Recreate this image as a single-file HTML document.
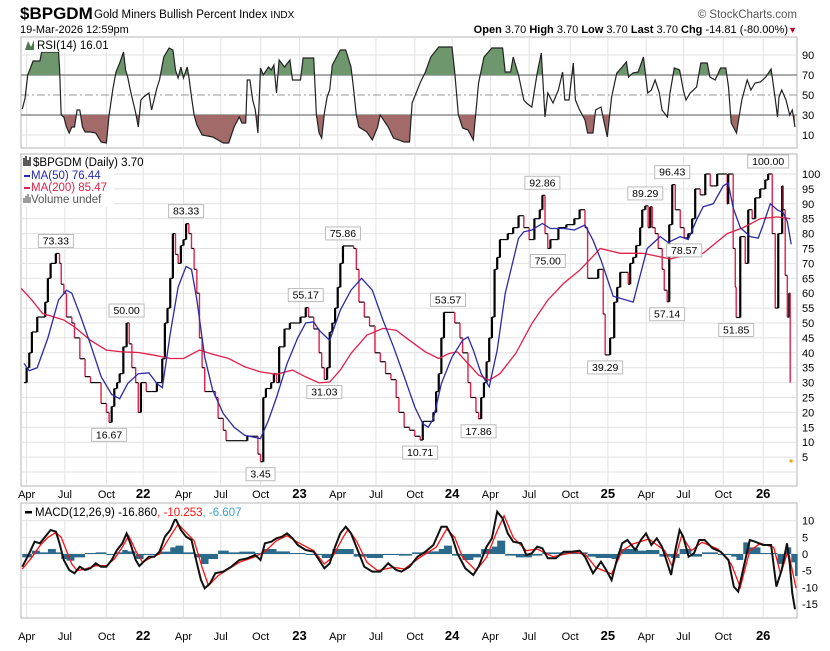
<!DOCTYPE html>
<html><head><meta charset="utf-8">
<style>
html,body{margin:0;padding:0;background:#fff;}
svg{display:block;font-family:"Liberation Sans",sans-serif;}
</style></head>
<body>
<svg id="chart" width="830" height="651" viewBox="0 0 830 651" xmlns="http://www.w3.org/2000/svg">
<g>
<text x="20" y="19" font-size="17" font-weight="bold" fill="#000">$BPGDM</text>
<text x="94" y="18" font-size="11.5" fill="#000">Gold Miners Bullish Percent Index <tspan font-size="10">INDX</tspan></text>
<text x="797" y="18" font-size="11.5" fill="#555" text-anchor="end">© StockCharts.com</text>
<text x="20" y="33" font-size="11" fill="#000">19-Mar-2026 12:59pm</text>
<text x="788" y="33" font-size="11" fill="#000" text-anchor="end"><tspan font-weight="bold">Open</tspan> 3.70 <tspan font-weight="bold">High</tspan> 3.70 <tspan font-weight="bold">Low</tspan> 3.70 <tspan font-weight="bold">Last</tspan> 3.70 <tspan font-weight="bold">Chg</tspan> -14.81 (-80.00%)</text>
<text x="797" y="33" font-size="9" fill="#c00020" text-anchor="end">▼</text>
</g>
<g id="grid"></g>
<g id="marks"></g>
<g id="labels"></g>
</svg>
<script>
// ---------- DATA ----------
const tickDates=[2.94,5.86,9.03,11.83,14.91,17.75,20.8,23.76,26.68,29.6,32.57,35.41,38.33,41.29,44.42,47.3,50.22,53.06,56.1,59.15];
const tickLabels=["Apr","Jul","Oct","22","Apr","Jul","Oct","23","Apr","Jul","Oct","24","Apr","Jul","Oct","25","Apr","Jul","Oct","26"];
const mainTicks=[100,95,90,85,80,75,70,65,60,55,50,45,40,35,30,25,20,15,10,5,0];
const rsiTicks=[90,70,50,30,10];
const macdTicks=[10,5,0,-5,-10,-15];

const bpiDates=[2.74,2.94,3.14,3.34,3.75,4.36,4.56,4.77,5.17,5.45,5.58,5.78,5.98,6.39,6.59,7.0,7.4,7.81,8.42,8.62,9.03,9.23,9.43,9.63,9.84,10.04,10.32,10.57,10.77,10.97,11.26,11.46,11.66,12.07,12.48,12.88,13.29,13.49,13.69,13.9,14.1,14.3,14.5,14.71,14.91,15.11,15.32,15.52,15.72,15.93,16.13,16.33,16.53,16.94,17.35,17.55,17.95,18.16,19.58,19.78,20.39,20.59,20.79,21.0,21.2,21.6,21.81,22.01,22.21,22.62,23.03,23.84,24.24,24.45,24.85,25.26,25.46,25.66,25.87,26.07,26.27,26.48,26.68,26.88,27.08,27.9,28.1,28.3,28.71,29.11,29.52,29.93,30.33,30.74,31.14,31.35,31.75,32.16,32.56,32.97,33.17,33.58,33.98,34.19,34.39,34.59,34.79,35.4,35.61,36.01,36.21,36.62,36.82,37.23,37.43,37.63,37.84,38.04,38.24,38.45,38.65,38.85,39.06,39.66,40.07,40.48,40.88,41.29,41.69,42.1,42.3,42.5,42.71,42.91,43.52,44.13,44.74,45.14,45.55,45.75,46.16,46.56,46.94,47.09,47.47,47.78,48.01,48.24,48.62,48.85,49.0,49.23,49.46,49.76,49.92,50.15,50.37,50.53,50.68,50.91,51.14,51.44,51.6,51.82,51.98,52.21,52.44,52.82,53.12,53.43,53.73,53.96,54.34,54.73,55.11,55.64,56.25,56.4,56.48,56.86,57.02,57.09,57.4,57.78,58.01,58.31,58.54,58.92,59.31,59.53,59.84,60.07,60.3,60.6,60.68,60.83,60.99,61.14,61.21];
const bpiValues=[30,35,40,47,52,57,65,70,73.33,70,63,60,52,50,45,38,32,30,30,23,20,16.67,22,28,30,33,42,50,43,35,30,20,30,27,27,30,38,50,55,65,80,73,70,76,78,83.33,80,75,68,60,45,35,27,27,25,18,14,10.5,10.5,12,12,6,3.45,25,28,30,33,30,42,48,50,52,55.17,52,48,40,35,31.03,35,47,50,55,62,70,75.86,75,68,57,52,49,40,37,33,31,25,20,15,14,12,10.71,17,17,20,27,33,45,53.57,53.57,50,45,40,30,25,20,17.86,25,30,37,45,52,68,72,78,80,82,86,82,78,85,88,92.86,80,75,78,82,83,85,88,82,65,65,68,53,39.29,45,57,62,67,67,63,70,72,76,82,88,89.29,82,89,82,80,75,68,61,57.14,83,96.43,88,82,78.57,80,85,95,93,100,96,100,100,90,100,75,62,51.85,79,70,88,85,92,95,98,100,80,55,80,96,88,66,52,60,30];
const lastDate=61.28;
const lastValue=3.7;

const annDates=[5.17,9.23,10.57,15.11,20.79,24.24,25.66,27.08,32.97,35.1,37.43,42.3,42.71,47.09,50.15,51.82,52.21,53.12,57.09,59.53];
const annValues=[73.33,16.67,50.00,83.33,3.45,55.17,31.03,75.86,10.71,53.57,17.86,92.86,75.00,39.29,89.29,57.14,96.43,78.57,51.85,100.00];
const annAbove=[1,0,1,1,0,1,0,1,0,1,0,1,0,0,1,0,1,0,0,1];

const ma50Dates=[2.74,3.14,3.75,4.56,5.37,5.98,6.39,7.0,7.81,8.62,9.43,10.04,10.65,11.46,12.27,12.88,13.29,13.9,14.5,15.11,15.52,15.93,16.53,17.14,17.95,18.77,19.58,20.79,21.4,22.01,22.82,23.63,24.24,24.85,25.26,26.07,26.88,27.69,28.5,29.32,30.13,30.94,31.75,32.56,33.17,33.58,33.98,34.59,35.4,36.21,36.62,37.03,37.63,38.24,38.85,39.46,40.48,40.88,41.49,42.3,42.91,43.92,44.74,45.55,46.16,46.77,47.7,49.23,50.3,51.29,51.9,52.82,53.43,54.11,54.57,55.34,56.1,56.48,56.86,57.4,58.16,58.77,59.15,59.69,60.22,60.68,60.99,61.29];
const ma50Values=[36.4,34,35,45,57.7,61,60,53,43,32,26,24.6,29.7,33,33.3,29.7,28.3,46.5,62,69,68,57.7,38.6,27.4,19.6,15,12.3,11.2,17.4,25,36.4,45,50,50.4,47.6,44.2,54.3,61,65,61,51,42,32,21.8,16.2,15,17.9,29.7,38.6,44.2,45.3,40.9,33,28.6,40.9,59.9,78.4,80.6,81.2,83.4,81.7,81.7,81.2,82.9,77.8,71.1,59,57,75,79,77,79,78,85,89,90,96,97,88.6,82,79,78.5,83,90,88,87,84,76.4];

const ma200Dates=[2.53,3.34,4.16,4.97,5.78,6.59,7.81,9.03,10.24,11.46,12.68,13.9,14.91,16.13,17.14,18.36,19.58,20.79,22.01,23.23,24.24,25.26,26.07,26.88,27.69,28.91,30.13,31.14,32.16,33.37,34.39,35.2,35.81,36.62,37.43,38.24,39.06,40.27,41.49,42.71,43.92,45.14,46.36,46.71,48.24,49.99,52.05,53.35,54.57,56.4,57.63,58.92,60.22,61.21];
const ma200Values=[61.6,57.7,53.2,52.1,51,48.7,44.2,40.9,40.3,40.1,39.2,38.1,38.1,40.9,39.5,38.1,35.3,33.6,32.8,34.2,31.9,29.9,30.2,34.2,39.8,45.9,48.2,47.6,44.2,40.3,38.1,39.8,40.3,36.4,32.5,30.8,33,39.8,49.8,57.7,63.3,67.7,73.3,75,73.4,73.4,71.5,72.8,73.4,80,82,85,85.6,85];

const rsiDates=[2.61,2.82,3.02,3.26,3.43,3.95,4.08,5.37,5.45,5.58,5.78,5.98,6.19,6.39,6.59,6.79,7.0,7.2,7.4,7.81,8.21,8.62,9.03,9.23,9.51,9.76,10.04,10.33,10.49,10.65,10.85,11.26,11.46,11.66,11.87,12.27,12.48,12.88,13.08,13.41,13.81,14.1,14.3,14.5,14.71,14.91,15.19,15.32,15.52,15.72,15.93,16.33,17.14,17.95,18.36,18.77,19.17,19.37,19.66,19.78,19.98,20.19,20.39,20.59,20.79,21.0,21.4,21.61,21.81,22.01,22.21,22.62,23.03,23.23,23.84,24.04,24.85,25.05,25.26,25.46,25.66,25.87,26.07,26.27,26.88,27.29,27.69,27.9,28.1,28.3,28.91,29.32,29.72,29.92,30.53,30.94,31.75,32.16,32.36,32.97,33.37,33.78,34.39,35.4,35.61,35.89,36.21,36.62,37.03,37.43,37.84,38.45,39.26,39.46,39.87,40.07,40.48,40.88,41.08,41.49,41.9,42.22,42.5,42.71,43.11,43.52,43.84,44.01,44.33,44.66,44.82,45.14,45.55,45.75,46.16,46.36,46.77,46.97,47.25,47.58,47.98,48.39,48.71,48.88,49.2,49.61,50.01,50.34,50.62,50.9,51.23,51.43,51.84,52.04,52.37,52.77,53.05,53.26,53.58,54.07,54.39,54.88,55.08,55.49,55.9,56.3,56.5,56.71,57.11,57.52,57.93,58.21,58.53,58.94,59.35,59.75,60.08,60.24,60.36,60.56,60.89,61.17,61.37,61.58];
const rsiValues=[36,47,70,78,84,84,93,93,78,30,28,18,12,18,18,35,35,18,13,13,12,3,2,30,55,73,82,93,75,68,55,32,18,45,48,52,35,57,65,88,97,95,75,67,78,67,78,68,48,30,20,10,8,2,2,18,28,22,22,65,65,45,35,12,77,70,78,75,80,52,85,78,85,65,65,87,87,30,12,7,32,48,55,80,95,95,78,55,30,18,13,5,18,30,18,7,3,3,42,62,73,88,98,98,73,30,17,15,5,62,88,97,97,73,73,88,70,45,42,38,72,92,28,52,42,55,73,45,45,82,45,35,25,12,12,35,38,25,8,48,72,78,83,68,72,73,88,52,55,65,52,35,28,52,77,75,55,45,52,58,82,82,68,65,77,77,58,22,12,45,65,55,62,63,68,76,45,28,48,55,45,30,35,18];

const macdDates=[2.61,3.14,3.55,3.95,4.36,4.77,5.17,5.45,5.78,6.19,6.59,7.0,7.4,7.81,8.21,8.62,9.03,9.43,9.84,10.24,10.57,10.85,11.26,11.54,11.87,12.27,12.68,13.08,13.49,13.9,14.3,14.71,15.11,15.52,15.93,16.25,16.53,16.94,17.34,17.95,18.56,19.17,19.78,20.39,20.79,21.12,21.61,22.01,22.42,22.82,23.23,23.63,24.24,24.85,25.26,25.66,26.07,26.48,26.88,27.29,27.69,28.1,28.71,29.32,29.92,30.53,31.14,31.55,32.16,32.77,33.37,33.98,34.59,35.0,35.4,35.81,36.42,37.03,37.43,38.04,38.45,38.85,39.26,39.66,40.07,40.68,41.08,41.49,41.9,42.3,42.71,43.32,43.92,44.53,45.14,45.55,46.16,46.77,47.17,47.58,47.98,48.39,48.79,49.4,49.81,50.21,50.62,51.03,51.43,51.84,52.12,52.45,52.77,53.05,53.46,53.87,54.27,54.68,55.29,55.9,56.5,56.91,57.24,57.72,58.13,58.53,59.14,59.75,60.16,60.56,60.97,61.17,61.37,61.58];
const macdValues=[-3.8,0.2,3.7,3.2,5.2,7.2,6.7,3.2,-1.8,-4.8,-5.8,-3.8,-4.8,-4.3,-2.8,-3.8,-3.8,-1.8,1.2,3.2,6.2,3.2,-1.8,-3.6,-2.3,-0.8,-0.8,0.7,5.2,7.2,10.7,7.2,5.2,4.2,-2.8,-7.8,-10.3,-8.8,-5.8,-5.3,-3.8,-1.8,-1.3,-0.3,-1.8,3.2,3.7,4.7,5.2,6.2,4.7,2.7,1.2,0.7,-1.8,-4.3,-2.8,2.2,6.2,8.2,6.2,2.2,-3.8,-5.3,-5.3,-2.8,-4.8,-5.3,-3.8,-0.8,0.7,2.7,8.2,8.2,5.2,0.2,-4.3,-6.3,-3.8,2.2,4.7,12.7,10.7,6.2,3.7,3.2,-0.3,0.2,2.2,1.7,-1.3,-1.3,0.7,0.7,1,-0.8,-5.8,-2.3,-4.8,-7.8,-1.8,3.2,4.2,1.2,4.2,6.2,2.7,4.7,2.2,-2.8,-6.3,1.2,7.2,5.2,-0.8,0.2,4.2,4.2,1.7,0.7,-1.8,-9.8,-11.3,-2.8,4.2,3.7,2.7,2.7,-9.8,-4.8,3.2,-2.8,-11.8,-16.6];

const signalDates=[2.61,3.34,3.95,4.56,5.17,5.58,5.98,6.39,6.79,7.4,8.21,9.03,9.63,10.24,10.73,11.26,11.79,12.48,13.08,13.69,14.5,15.11,15.72,16.33,16.82,17.55,18.36,19.17,20.39,21.2,22.01,22.82,23.63,24.85,25.66,26.27,27.08,27.49,28.1,28.91,29.72,30.94,31.75,32.97,34.19,35.0,35.61,36.21,37.23,38.04,38.85,39.38,40.07,41.08,41.9,43.11,44.74,45.55,46.36,47.58,48.39,49.2,50.42,51.64,52.24,52.93,53.66,54.48,55.69,56.71,57.4,58.13,58.94,59.95,60.48,61.05,61.66];
const signalValues=[-4.5,-1,2.5,5,6.5,5,1,-3,-5,-4.5,-3.5,-3.5,-1.5,2,5.5,1,-2.5,-1,0,4,9,6.5,4,-4,-9.5,-6.5,-4.5,-2.5,-0.8,1,4,5.5,3.5,1,-3,-1,5,7.5,4,-2.5,-5,-4,-4.5,-1,2,7.5,5,-1,-5,-1,7,11.5,5,1,1.5,-0.8,0.5,0,-4,-6,1,3,4.5,1,-4,5.5,1,3.5,1.5,-3,-10,1,3.2,2,-6,1,-10.3];

const histDates=[2.61,3.34,3.95,4.56,5.17,5.58,5.98,6.59,7.4,8.21,9.03,9.63,10.24,10.65,11.26,11.87,13.08,13.9,14.3,14.91,15.72,16.25,16.82,17.55,18.36,19.17,20.39,21.0,22.01,23.03,24.24,25.46,26.27,27.08,27.9,28.91,30.13,31.35,32.36,33.37,34.39,34.79,35.4,36.21,37.03,37.63,38.45,38.85,39.46,40.27,41.49,42.3,43.92,45.14,45.75,46.36,47.58,48.19,48.79,49.61,50.21,51.23,52.12,52.77,53.66,54.48,55.69,56.71,57.11,57.63,58.13,58.94,59.95,60.24,60.77,60.97,61.29,61.58];
const histValues=[-1,1,0.5,1.5,0.5,-1.5,-2,-1,0.3,0.5,-0.3,0.5,1.2,0.8,-1.5,-0.3,0.7,2,2.5,0.5,-1,-3,-1.5,1,0.5,0.7,0.3,1.5,0.8,0.3,-0.3,-1.2,1.5,1.5,-0.8,-1.2,-0.3,-0.5,0.5,0.8,1.5,2.5,-0.5,-1.8,-1,1.5,2.2,4,-0.5,-1,-0.5,0.5,0.5,0.5,-0.8,-1.2,-1.5,1.5,1.5,1,1.2,-0.8,-1.2,1.5,-0.8,0.5,-0.3,-0.8,-1.8,3.5,2,0.3,0.3,-3,1,2,-2.5,-6.6];

// ---------- SCALES ----------
const L=21,R=797,xMin=2.51,xMax=61.73;
function X(m){return L+(m-xMin)/(xMax-xMin)*(R-L);}
const MAIN={top:154,bot:486},RSI={top:37,bot:148},MACD={top:503,bot:618};
function yMain(v){return 472-v*2.98;}
function yRsi(v){return 145-v;}
function yMacd(v){return 554-v*3.33;}

const NS="http://www.w3.org/2000/svg";
const gGrid=document.getElementById('grid'),gMarks=document.getElementById('marks'),gLab=document.getElementById('labels');
function el(tag,attrs,parent){const e=document.createElementNS(NS,tag);for(const k in attrs)e.setAttribute(k,attrs[k]);parent.appendChild(e);return e;}
function poly(dates,vals,yf){return dates.map((d,i)=>(i?'L':'M')+X(d).toFixed(1)+','+yf(vals[i]).toFixed(1)).join('');}

function panel(p,name){
  const r=el('rect',{x:L,y:p.top,width:R-L,height:p.bot-p.top,fill:'#fff',stroke:'#b4b4b4','stroke-width':1},gGrid);
  
  
  tickDates.forEach(d=>{
    const ln=el('line',{x1:X(d),x2:X(d),y1:p.top,y2:p.bot,stroke:'#e2e2e2','stroke-width':1},gGrid);
    
    
  });
}
panel(RSI,'rsi');panel(MAIN,'price');panel(MACD,'macd');

mainTicks.forEach(v=>{
  const ln=el('line',{x1:L,x2:R,y1:yMain(v),y2:yMain(v),stroke:'#e2e2e2','stroke-width':1},gGrid);
  
  
  if(v>0){
    const t=el('text',{x:802,y:yMain(v)+4,'font-size':11,fill:'#000'},gLab);t.textContent=v;
    
    
  }
});
rsiTicks.forEach(v=>{
  const isBand=(v===70||v===30),mid=(v===50);
  const ln=el('line',{x1:L,x2:R,y1:yRsi(v),y2:yRsi(v),stroke:isBand?'#777':(mid?'#999':'#e2e2e2'),'stroke-width':isBand?1.3:1},gGrid);
  if(mid)ln.setAttribute('stroke-dasharray','8,3,2,3');
  
  
  const t=el('text',{x:802,y:yRsi(v)+4,'font-size':11,fill:'#000'},gLab);t.textContent=v;
  
  
});
macdTicks.forEach(v=>{
  const ln=el('line',{x1:L,x2:R,y1:yMacd(v),y2:yMacd(v),stroke:'#e2e2e2','stroke-width':1},gGrid);
  
  
  const t=el('text',{x:802,y:yMacd(v)+4,'font-size':11,fill:'#000'},gLab);t.textContent=v;
  
  
});
[[494,'price'],[636,'macd']].forEach(([yy,nm])=>{
  tickDates.forEach((d,i)=>{
    const yr=/^\d+$/.test(tickLabels[i]);
    const t=el('text',{x:X(d),y:yy+4,'font-size':yr?13:11,'font-weight':yr?'bold':'normal','text-anchor':'middle',fill:'#000'},gLab);
    t.textContent=tickLabels[i];
    
    
  });
});

// ---------- RSI ----------
const defs=el('defs',{},gMarks);
const cpU=el('clipPath',{id:'cpU'},defs);el('rect',{x:L,y:RSI.top,width:R-L,height:yRsi(70)-RSI.top},cpU);
const cpD=el('clipPath',{id:'cpD'},defs);el('rect',{x:L,y:yRsi(30),width:R-L,height:RSI.bot-yRsi(30)},cpD);
const rsiLine=poly(rsiDates,rsiValues,yRsi);
const x0=X(rsiDates[0]),x1=X(rsiDates[rsiDates.length-1]);
const rg=el('path',{d:rsiLine+'L'+x1+','+yRsi(70)+'L'+x0+','+yRsi(70)+'Z',fill:'#6e976e','clip-path':'url(#cpU)'},gMarks);


const rr=el('path',{d:rsiLine+'L'+x1+','+yRsi(30)+'L'+x0+','+yRsi(30)+'Z',fill:'#a36a6a','clip-path':'url(#cpD)'},gMarks);


const rl=el('path',{d:rsiLine,fill:'none',stroke:'#222','stroke-width':1.2},gMarks);



// ---------- PRICE ----------
for(let i=1;i<bpiDates.length;i++){
  const xa=X(bpiDates[i-1]),xb=X(bpiDates[i]);
  const h=el('line',{x1:xa,x2:xb,y1:yMain(bpiValues[i-1]),y2:yMain(bpiValues[i-1]),stroke:'#000','stroke-width':1.2},gMarks);
  
  
  const up=bpiValues[i]>=bpiValues[i-1];
  const v=el('line',{x1:xb,x2:xb,y1:yMain(bpiValues[i-1]),y2:yMain(bpiValues[i]),stroke:up?'#000':'#e0204a','stroke-width':up?2.2:1.4},gMarks);
  
  
}
const dot=el('rect',{x:X(lastDate)-1.5,y:yMain(lastValue)-1.5,width:3,height:3,fill:'#f0a000'},gMarks);


const m200=el('path',{d:poly(ma200Dates,ma200Values,yMain),fill:'none',stroke:'#e0204a','stroke-width':1.3},gMarks);


const m50=el('path',{d:poly(ma50Dates,ma50Values,yMain),fill:'none',stroke:'#2a2aaa','stroke-width':1.3},gMarks);


annDates.forEach((d,i)=>{
  const txt=annValues[i].toFixed(2);const w=txt.length*6+5,h=13;
  const cx=X(d),py=yMain(annValues[i]);
  const by=annAbove[i]?py-6-h:py+6;
  const g=el('g',{},gLab);
  
  
  el('rect',{x:cx-w/2,y:by,width:w,height:h,fill:'#fff',stroke:'#bbb','stroke-width':1},g);
  const t=el('text',{x:cx,y:by+10,'font-size':10.5,'text-anchor':'middle',fill:'#000'},g);t.textContent=txt;
});

// ---------- MACD ----------
let hp='M'+X(histDates[0])+','+yMacd(0);
for(let i=0;i<histDates.length;i++){
  const xa=X(histDates[i]),xb=X(i+1<histDates.length?histDates[i+1]:histDates[i]+0.2);
  hp+='L'+xa+','+yMacd(histValues[i])+'L'+xb+','+yMacd(histValues[i]);
}
hp+='L'+X(histDates[histDates.length-1]+0.2)+','+yMacd(0)+'Z';
const hist=el('path',{d:hp,fill:'#2b6a8a'},gMarks);


const sig=el('path',{d:poly(signalDates,signalValues,yMacd),fill:'none',stroke:'#ff1010','stroke-width':1.3},gMarks);


const ml=el('path',{d:poly(macdDates,macdValues,yMacd),fill:'none',stroke:'#111','stroke-width':2},gMarks);



// ---------- LEGENDS ----------
function legend(x,y,parts,name){
  const g=el('g',{},gLab);
  
  
  const t=el('text',{x:x,y:y,'font-size':11.5},g);
  parts.forEach(p=>{const s=el('tspan',{fill:p[1]},t);s.textContent=p[0];});
  return g;
}
el('rect',{x:22,y:38,width:100,height:14,fill:'#fff','fill-opacity':0.85},gLab);
el('path',{d:'M25,50 L28,41 L31,47 L34,40 L34,50 Z',fill:'#4d7a4d'},gLab);
legend(37,49,[['RSI(14) 16.01','#000']],'rsi-legend');
el('rect',{x:22,y:155,width:92,height:52,fill:'#fff'},gLab);
el('path',{d:'M24,166 v-8 M26,166 v-10 M28,166 v-6 M30,166 v-9',stroke:'#000','stroke-width':1.3},gLab);
legend(33,166,[['$BPGDM (Daily) 3.70','#000']],'price-legend');
el('rect',{x:24,y:175,width:6,height:2,fill:'#2a2aaa'},gLab);
legend(31,179,[['MA(50) 76.44','#2a2aaa']],'ma50-legend');
el('rect',{x:24,y:187,width:6,height:2,fill:'#e0204a'},gLab);
legend(31,191,[['MA(200) 85.47','#e0204a']],'ma200-legend');
el('path',{d:'M24,203 v-5 M26,203 v-7 M28,203 v-9 M30,203 v-6',stroke:'#666','stroke-width':1.3},gLab);
legend(31,203,[['Volume undef','#555']],'volume-legend');
el('rect',{x:22,y:505,width:222,height:14,fill:'#fff','fill-opacity':0.85},gLab);
el('rect',{x:25,y:511,width:7,height:2.5,fill:'#000'},gLab);
legend(35,516,[['MACD(12,26,9) -16.860','#000'],[', -10.253','#ff1010'],[', -6.607','#3ea0d0']],'macd-legend');
</script>
</body></html>
